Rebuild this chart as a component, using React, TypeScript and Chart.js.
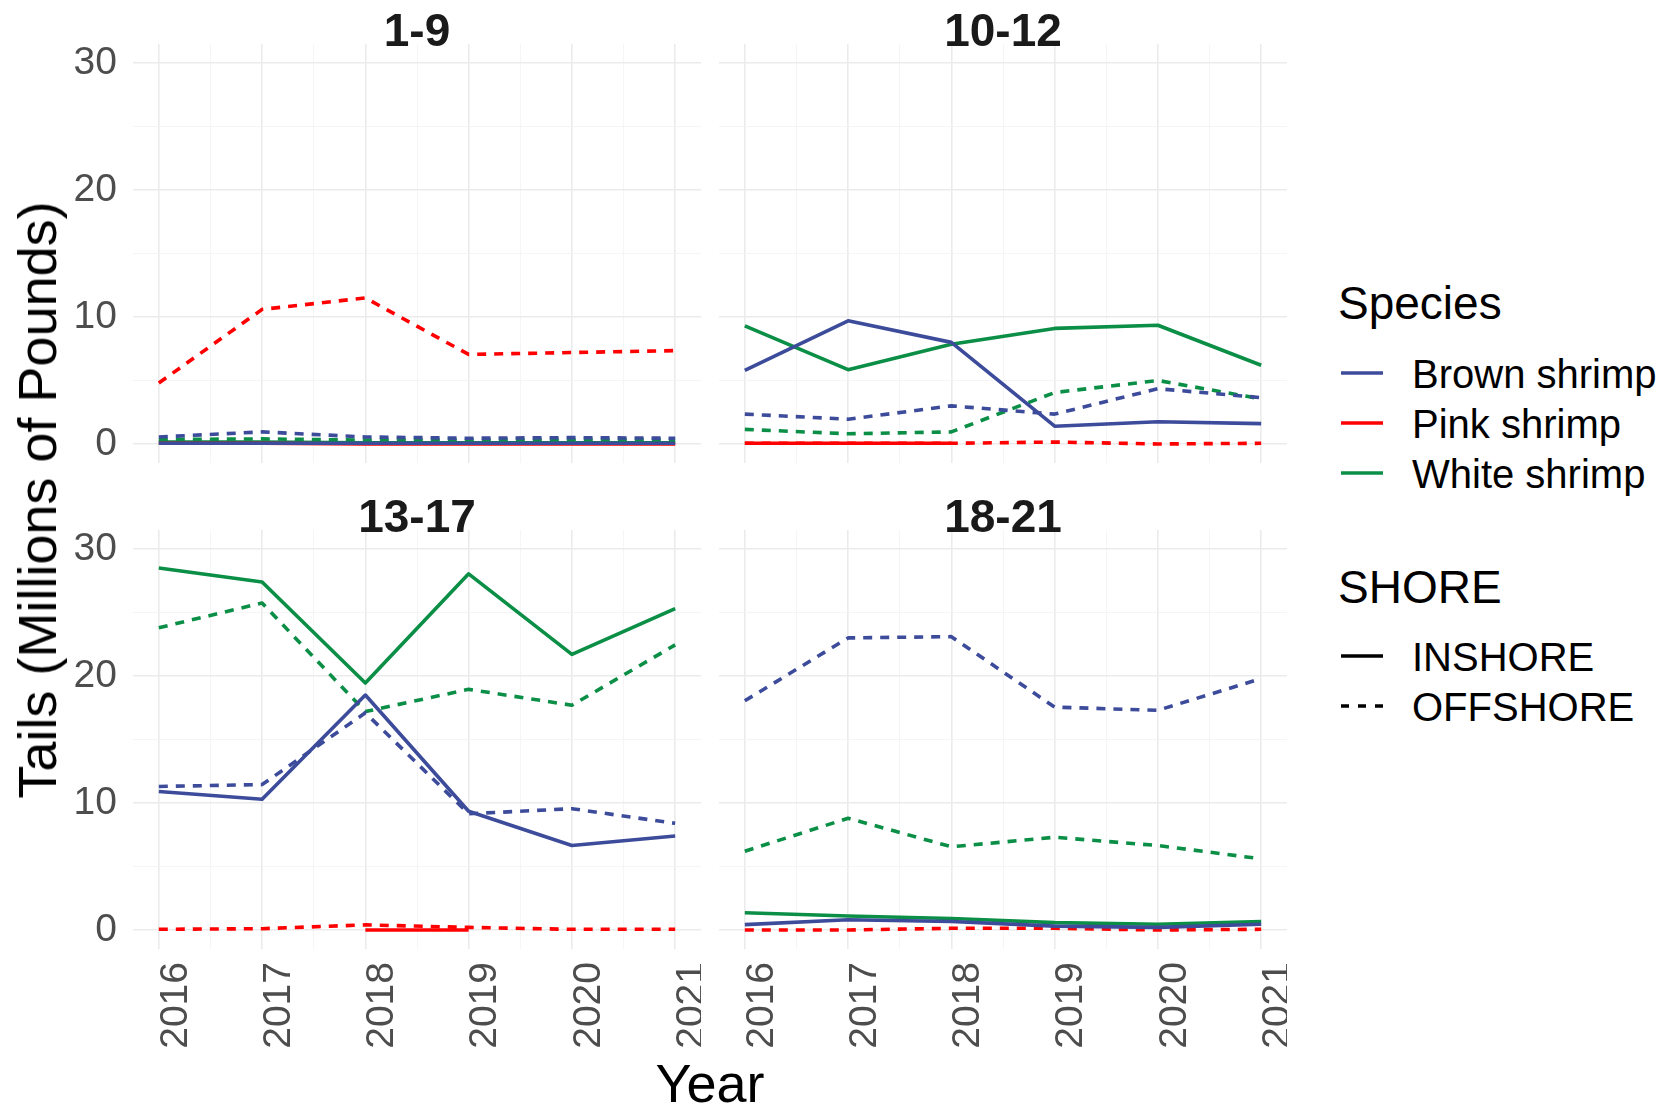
import React, { useEffect, useRef } from "react";
import { Chart, registerables } from "chart.js";

Chart.register(...registerables);

// ---------------- data ----------------
const years = [2016, 2017, 2018, 2019, 2020, 2021];
const panelNames = ["1-9", "10-12", "13-17", "18-21"];
const speciesNames = ["Brown shrimp", "Pink shrimp", "White shrimp"];
const shoreNames = ["INSHORE", "OFFSHORE"];
const yMajorTicks = [0, 10, 20, 30];
const yMinorTicks = [5, 15, 25];
const xMinorTicks = [2016.5, 2017.5, 2018.5, 2019.5, 2020.5];

// panel "1-9"
const brownIn1 = [0.05, 0.05, 0.05, 0.05, 0.05, 0.05];
const brownOff1 = [0.55, 0.95, 0.55, 0.45, 0.5, 0.45];
const pinkIn1 = [0.05, 0.05, 0.0, 0.0, 0.0, 0.0];
const pinkOff1 = [4.8, 10.6, 11.5, 7.05, 7.2, 7.35];
const whiteIn1 = [0.15, 0.15, 0.1, 0.1, 0.1, 0.1];
const whiteOff1 = [0.35, 0.4, 0.3, 0.3, 0.3, 0.35];

// panel "10-12"
const brownIn2 = [5.8, 9.7, 8.0, 1.4, 1.75, 1.6];
const brownOff2 = [2.35, 1.95, 3.0, 2.35, 4.35, 3.65];
const pinkIn2 = [0.05, 0.05, 0.05, null, null, null];
const pinkOff2 = [0.05, 0.05, 0.05, 0.15, 0.0, 0.05];
const whiteIn2 = [9.3, 5.85, 7.85, 9.1, 9.35, 6.2];
const whiteOff2 = [1.15, 0.8, 0.95, 4.05, 5.0, 3.55];

// panel "13-17"
const brownIn3 = [10.9, 10.3, 18.5, 9.35, 6.65, 7.4];
const brownOff3 = [11.3, 11.45, 17.1, 9.15, 9.55, 8.4];
const pinkIn3 = [null, null, 0.0, 0.0, null, null];
const pinkOff3 = [0.05, 0.1, 0.4, 0.2, 0.05, 0.05];
const whiteIn3 = [28.5, 27.4, 19.45, 28.05, 21.7, 25.3];
const whiteOff3 = [23.8, 25.75, 17.2, 18.95, 17.7, 22.45];

// panel "18-21"
const brownIn4 = [0.42, 0.8, 0.66, 0.3, 0.2, 0.45];
const brownOff4 = [18.05, 23.0, 23.1, 17.55, 17.3, 19.8];
const pinkIn4 = [null, null, null, null, null, null];
const pinkOff4 = [0.0, 0.0, 0.13, 0.13, 0.0, 0.05];
const whiteIn4 = [1.35, 1.1, 0.9, 0.58, 0.45, 0.66];
const whiteOff4 = [6.2, 8.8, 6.55, 7.3, 6.65, 5.6];

const panelSeries = [
  [brownIn1, brownOff1, pinkIn1, pinkOff1, whiteIn1, whiteOff1],
  [brownIn2, brownOff2, pinkIn2, pinkOff2, whiteIn2, whiteOff2],
  [brownIn3, brownOff3, pinkIn3, pinkOff3, whiteIn3, whiteOff3],
  [brownIn4, brownOff4, pinkIn4, pinkOff4, whiteIn4, whiteOff4],
];

// ---------------- style ----------------
const speciesColors = ["#3D4B9B", "#FF0000", "#0B8E46"];
const FONT = "'Liberation Sans', Arial, Helvetica, sans-serif";
const TICK_COLOR = "#4D4D4D";
const LINE_W = 3.6;
const DASH = [9, 8];

const W = 1671;
const H = 1105;
const colLeft = [133, 719];
const rowTop = [44, 530];
const PW = 568;
const PH = 419;
const Y_AXIS_W = 133;
const X_AXIS_H = H - (rowTop[1] + PH);

function PanelChart({ index }: { index: number }) {
  const ref = useRef<HTMLCanvasElement | null>(null);
  const col = index % 2;
  const row = Math.floor(index / 2);
  const showY = col === 0;
  const showX = row === 1;
  const cLeft = showY ? colLeft[col] - Y_AXIS_W : colLeft[col];
  const cTop = rowTop[row];
  const cW = PW + (showY ? Y_AXIS_W : 0);
  const cH = PH + (showX ? X_AXIS_H : 0);

  useEffect(() => {
    const series = panelSeries[index];
    const datasets = series.map((vals, k) => {
      const sp = Math.floor(k / 2);
      const sh = k % 2;
      return {
        label: speciesNames[sp] + " " + shoreNames[sh],
        data: years.map((yr, i) => ({ x: yr, y: vals[i] })),
        borderColor: speciesColors[sp],
        backgroundColor: speciesColors[sp],
        borderWidth: LINE_W,
        borderDash: sh === 1 ? DASH : [],
        borderCapStyle: "butt" as const,
        borderJoinStyle: "round" as const,
        pointRadius: 0,
        pointHoverRadius: 0,
        tension: 0,
        spanGaps: false,
        fill: false,
      };
    });
    const majorX = (v: number) => Math.abs(v - Math.round(v)) < 1e-6;
    const majorY = (v: number) => Math.abs(v % 10) < 1e-6;
    const chart = new Chart(ref.current as HTMLCanvasElement, {
      type: "line",
      data: { datasets: datasets as any },
      options: {
        animation: false,
        responsive: false,
        devicePixelRatio: 1,
        events: [],
        layout: { padding: 0 },
        plugins: { legend: { display: false }, tooltip: { enabled: false }, title: { display: false } },
        scales: {
          x: {
            type: "linear",
            min: 2015.75,
            max: 2021.25,
            position: "bottom",
            border: { display: false },
            grid: {
              drawTicks: false,
              color: (c: any) => (majorX(c.tick.value) ? "#EBEBEB" : "#F4F4F4"),
              lineWidth: (c: any) => (majorX(c.tick.value) ? 1.6 : 0.9),
            },
            ticks: {
              display: showX,
              autoSkip: false,
              minRotation: 90,
              maxRotation: 90,
              padding: 13,
              labelOffset: 17,
              color: TICK_COLOR,
              font: { family: FONT, size: 39 },
              callback: (v: any) => (majorX(Number(v)) ? String(Math.round(Number(v))) : ""),
            },
            afterBuildTicks: (scale: any) => {
              const vals = [...years, ...xMinorTicks].sort((a, b) => a - b);
              scale.ticks = vals.map((v) => ({ value: v }));
            },
            afterFit: (scale: any) => {
              scale.height = showX ? X_AXIS_H : 0;
              scale.paddingLeft = 0;
              scale.paddingRight = 0;
            },
          },
          y: {
            type: "linear",
            min: -1.5,
            max: 31.5,
            position: "left",
            border: { display: false },
            grid: {
              drawTicks: false,
              color: (c: any) => (majorY(c.tick.value) ? "#EBEBEB" : "#F4F4F4"),
              lineWidth: (c: any) => (majorY(c.tick.value) ? 1.6 : 0.9),
            },
            ticks: {
              display: showY,
              autoSkip: false,
              padding: 16,
              color: TICK_COLOR,
              font: { family: FONT, size: 39 },
              callback: (v: any) => (majorY(Number(v)) ? String(Number(v)) : ""),
            },
            afterBuildTicks: (scale: any) => {
              const vals = [...yMajorTicks, ...yMinorTicks].sort((a, b) => a - b);
              scale.ticks = vals.map((v) => ({ value: v }));
            },
            afterFit: (scale: any) => {
              scale.width = showY ? Y_AXIS_W : 0;
              scale.paddingTop = 0;
              scale.paddingBottom = 0;
            },
          },
        },
      },
    });
    return () => chart.destroy();
  }, [index]);

  return (
    <canvas
      ref={ref}
      width={cW}
      height={cH}
      style={{ position: "absolute", left: cLeft, top: cTop, width: cW, height: cH }}
    />
  );
}

function Text({
  x,
  y,
  size,
  bold,
  children,
  anchor,
  rotate,
  color,
}: {
  x: number;
  y: number;
  size: number;
  bold?: boolean;
  children: React.ReactNode;
  anchor?: "start" | "middle";
  rotate?: boolean;
  color?: string;
}) {
  const tx = anchor === "middle" ? "-50%" : "0";
  return (
    <div
      style={{
        position: "absolute",
        left: x,
        top: y,
        fontFamily: FONT,
        fontSize: size,
        fontWeight: bold ? 700 : 400,
        color: color || "#000",
        whiteSpace: "nowrap",
        lineHeight: 1,
        transform: rotate
          ? `translate(-50%, -50%) rotate(-90deg)`
          : `translate(${tx}, -49%)`,
      }}
    >
      {children}
    </div>
  );
}

export default function App() {
  const legendKeyX1 = 1341;
  const legendKeyX2 = 1383;
  const speciesKeyY = [373, 423, 473];
  const shoreKeyY = [656, 706];
  return (
    <div style={{ position: "absolute", left: 0, top: 0, width: W, height: H, background: "#fff", overflow: "hidden" }}>
      {[0, 1, 2, 3].map((i) => (
        <PanelChart key={i} index={i} />
      ))}
      {panelNames.map((name, i) => (
        <Text
          key={name}
          x={colLeft[i % 2] + PW / 2}
          y={i < 2 ? 30 : 516}
          size={46}
          bold
          anchor="middle"
          color="#1A1A1A"
        >
          {name}
        </Text>
      ))}
      <Text x={37} y={500} size={54} rotate>
        Tails (Millions of Pounds)
      </Text>
      <Text x={710} y={1082} size={54} anchor="middle">
        Year
      </Text>
      <Text x={1338} y={303} size={46}>
        Species
      </Text>
      {speciesNames.map((s, i) => (
        <Text key={s} x={1412} y={speciesKeyY[i] + 1} size={40}>
          {s}
        </Text>
      ))}
      <Text x={1338} y={587} size={46}>
        SHORE
      </Text>
      {shoreNames.map((s, i) => (
        <Text key={s} x={1412} y={shoreKeyY[i] + 1} size={40}>
          {s}
        </Text>
      ))}
      <svg
        width={W}
        height={H}
        style={{ position: "absolute", left: 0, top: 0, pointerEvents: "none" }}
      >
        {speciesNames.map((s, i) => (
          <line
            key={s}
            x1={legendKeyX1}
            x2={legendKeyX2}
            y1={speciesKeyY[i]}
            y2={speciesKeyY[i]}
            stroke={speciesColors[i]}
            strokeWidth={3.6}
          />
        ))}
        {shoreNames.map((s, i) => (
          <line
            key={s}
            x1={legendKeyX1}
            x2={legendKeyX2}
            y1={shoreKeyY[i]}
            y2={shoreKeyY[i]}
            stroke="#000"
            strokeWidth={3.6}
            strokeDasharray={i === 1 ? "8 9" : undefined}
          />
        ))}
      </svg>
    </div>
  );
}
